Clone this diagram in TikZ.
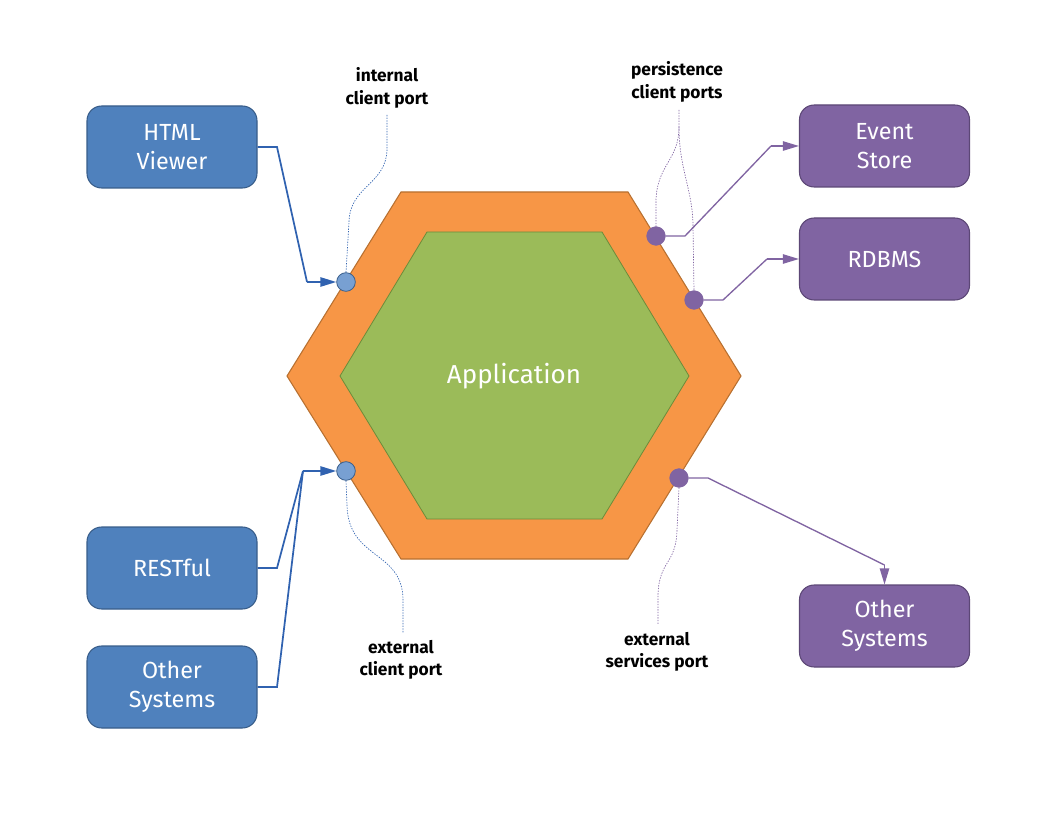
\documentclass[tikz,border=0pt]{standalone}
\usepackage{fontspec}
\setmainfont{Fira Sans}
\usetikzlibrary{arrows.meta}

\definecolor{boxblue}{RGB}{79,129,189}
\definecolor{boxblueline}{RGB}{56,93,138}
\definecolor{pinblue}{RGB}{120,160,210}
\definecolor{connblue}{RGB}{48,98,176}
\definecolor{boxpurple}{RGB}{128,100,162}
\definecolor{boxpurpleline}{RGB}{92,71,118}
\definecolor{hexorange}{RGB}{247,150,70}
\definecolor{hexorangeline}{RGB}{184,112,48}
\definecolor{hexgreen}{RGB}{155,187,89}
\definecolor{hexgreenline}{RGB}{108,140,58}

\tikzset{
  box/.style={rounded corners=11pt, minimum width=127.5pt, minimum height=61.5pt,
    align=center, text=white, font=\fontsize{17.5}{21.5}\selectfont, line width=0.8pt},
  bluebox/.style={box, fill=boxblue, draw=boxblueline},
  purplebox/.style={box, fill=boxpurple, draw=boxpurpleline},
  bluepin/.style={circle, inner sep=0pt, minimum size=14pt, fill=pinblue, draw=boxblueline, line width=0.6pt},
  purplepin/.style={circle, inner sep=0pt, minimum size=14pt, fill=boxpurple, draw=boxpurple},
  blueline/.style={draw=connblue, line width=1.3pt},
  purpleline/.style={draw=boxpurple, line width=1pt},
  tip/.style={-{Triangle[length=12pt,width=7pt]}},
  note/.style={align=center, font=\fontsize{13}{17}\selectfont\bfseries},
  blueguide/.style={draw=connblue, line width=0.5pt, dash pattern=on 1pt off 1pt},
  purpleguide/.style={draw=boxpurple, line width=0.5pt, dash pattern=on 1pt off 1pt}
}

\begin{document}
\begin{tikzpicture}[x=0.75pt, y=-0.75pt]

\useasboundingbox (0,0) rectangle (1056,816);

\draw[fill=hexorange, draw=hexorangeline, line width=0.8pt]
  (401,192) -- (628,192) -- (741,376) -- (628,559) -- (401,559) -- (287,376) -- cycle;
\draw[fill=hexgreen, draw=hexgreenline, line width=0.6pt]
  (427,232) -- (602,232) -- (689,376) -- (602,519) -- (427,519) -- (340,376) -- cycle;
\node[text=white, font=\fontsize{19.5}{22}\selectfont] (app) at (514,376) {Application};

\node[bluebox] (html) at (172,147) {HTML\\Viewer};
\node[bluebox] (rest) at (172,568) {RESTful};
\node[bluebox] (otherl) at (172,687) {Other\\Systems};
\node[purplebox] (event) at (884.5,146) {Event\\Store};
\node[purplebox] (rdbms) at (884.5,259) {RDBMS};
\node[purplebox] (otherr) at (884.5,626) {Other\\Systems};

\node[bluepin] (pinint) at (346,282) {};
\node[bluepin] (pinext) at (346,471) {};
\node[purplepin] (pinev) at (656,236) {};
\node[purplepin] (pindb) at (694,300) {};
\node[purplepin] (pinsv) at (679,478) {};

\coordinate (h1) at (277,147);
\coordinate (h2) at (307,282);
\coordinate (r1) at (277,568);
\coordinate (o1) at (277,687);
\coordinate (joint) at (303,471);
\coordinate (e1) at (685,236);
\coordinate (e2) at (771,146);
\coordinate (d1) at (723,300);
\coordinate (d2) at (767,259);
\coordinate (s1) at (708,478);
\coordinate (s2) at (884.5,565);

\draw[blueline] (html.east) -- (h1) -- (h2);
\draw[blueline, tip] (h2) -- (pinint.west);
\draw[blueline] (rest.east) -- (r1) -- (joint);
\draw[blueline] (otherl.east) -- (o1) -- (joint);
\draw[blueline, tip] (joint) -- (pinext.west);

\draw[purpleline] (pinev.east) -- (e1) -- (e2);
\draw[purpleline, tip] (e2) -- (event.west);
\draw[purpleline] (pindb.east) -- (d1) -- (d2);
\draw[purpleline, tip] (d2) -- (rdbms.west);
\draw[purpleline] (pinsv.east) -- (s1) -- (s2);
\draw[purpleline, tip] (s2) -- (otherr.north);

\node[note] (intl) at (387,88) {internal\\client port};
\node[note] (pers) at (677,82) {persistence\\client ports};
\node[note] (extl) at (401,660) {external\\client port};
\node[note] (extsv) at (657,652) {external\\services port};

\draw[blueguide] (387,115) -- (387,148) .. controls (387,185) and (350,185) .. (349,222) -- (pinint.north);
\draw[purpleguide] (679,110) -- (679,127) .. controls (679,160) and (657,165) .. (656,200) -- (pinev.north);
\draw[purpleguide] (679,127) .. controls (679,170) and (693,190) .. (693,227) -- (pindb.north);
\draw[blueguide] (pinext.south) -- (347,505) .. controls (348,560) and (403,550) .. (403,600) -- (403,633);
\draw[purpleguide] (pinsv.south) -- (677,530) .. controls (676,565) and (659,560) .. (658,595) -- (658,625);

\end{tikzpicture}
\end{document}
